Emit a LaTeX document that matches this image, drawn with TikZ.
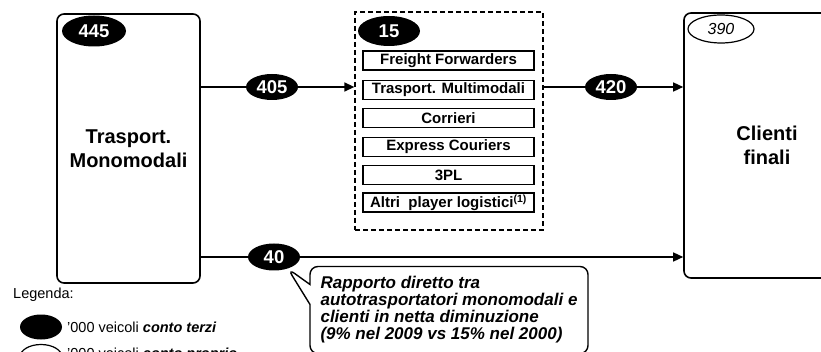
\documentclass[tikz,border=0pt]{standalone}
\usepackage{fontspec}
\setmainfont{Liberation Sans}
\usetikzlibrary{arrows.meta,shapes.geometric,shapes.callouts}
\begin{document}
\begin{tikzpicture}[x=1pt,y=-1pt,
  bigbox/.style={draw, line width=1.6pt, rounded corners=7pt, align=center, inner sep=0pt,
    font=\bfseries\fontsize{20}{24}\selectfont},
  dark/.style={ellipse, fill=black, text=white, inner sep=0pt,
    font=\bfseries\fontsize{18.5}{18.5}\selectfont},
  light/.style={ellipse, draw, line width=1.2pt, fill=white, inner sep=0pt,
    font=\itshape\fontsize{16}{16}\selectfont},
  itembox/.style={draw, line width=1.3pt, minimum width=171pt, minimum height=19pt, inner sep=0pt,
    font=\bfseries\fontsize{15}{15}\selectfont},
  conn/.style={line width=1.4pt},
  arr/.style={conn, -{Triangle[length=10pt,width=9pt]}},
  legtext/.style={anchor=west, inner sep=0pt, font=\fontsize{14.5}{16}\selectfont},
]
\useasboundingbox (0,0) rectangle (821,352);
\clip (0,0) rectangle (821,352);

% main boxes
\node[bigbox, minimum width=143pt, minimum height=269pt] (mono) at (128.5,148.5) {Trasport.\\Monomodali};
\node[bigbox, minimum width=166pt, minimum height=265pt] (clienti) at (767,145.5) {Clienti\\finali};
\node[draw, dash pattern=on 5pt off 3pt, line width=1.3pt, minimum width=188pt, minimum height=218pt, inner sep=0pt] (group) at (449,121) {};

% counts
\node[dark, minimum width=64pt, minimum height=31pt] (n445) at (94,31) {445};
\node[dark, minimum width=62pt, minimum height=30pt] (n15) at (389,31) {15};
\node[light, minimum width=66pt, minimum height=28pt] (n390) at (721,29) {390};

% player boxes
\node[itembox] (ff) at (448.5,60.5) {Freight Forwarders};
\node[itembox] (tm) at (448.5,90) {Trasport. Multimodali};
\node[itembox] (co) at (448.5,118) {Corrieri};
\node[itembox] (ec) at (448.5,147) {Express Couriers};
\node[itembox] (pl) at (448.5,175) {3PL};
\node[itembox] (al) at (448.5,202.5) {Altri\ \ player logistici\textsuperscript{(1)}};

% flow labels
\node[dark, minimum width=52pt, minimum height=26pt] (n405) at (272,87) {405};
\node[dark, minimum width=52pt, minimum height=26pt] (n420) at (611,87) {420};
\node[dark, minimum width=52pt, minimum height=27pt] (n40) at (274,257) {40};

% connectors
\draw[conn] (mono.east |- n405.center) -- (n405.west);
\draw[arr] (n405.east) -- (group.west |- n405.center);
\draw[conn] (group.east |- n420.center) -- (n420.west);
\draw[arr] (n420.east) -- (clienti.west |- n420.center);
\draw[conn] (mono.east |- n40.center) -- (n40.west);
\draw[arr] (n40.east) -- (clienti.west |- n40.center);

% callout
\node[draw, line width=1.4pt, rounded corners=8pt, rectangle callout,
  callout absolute pointer={(n40.-40)}, callout pointer width=20pt,
  minimum width=278pt, minimum height=87pt, inner sep=0pt, align=left,
  font=\bfseries\itshape\fontsize{17}{17}\selectfont] (note) at (449,310)
  {Rapporto diretto tra\\autotrasportatori monomodali e\\clienti in netta diminuzione\\(9\% nel 2009 vs 15\% nel 2000)};

% legend
\node[legtext] (legenda) at (13,295) {Legenda:};
\node[ellipse, fill=black, minimum width=42pt, minimum height=25pt, inner sep=0pt] (kdark) at (41,327) {};
\node[legtext] (tdark) at (67,327) {'000 veicoli \textbf{\textit{conto terzi}}};
\node[ellipse, draw, line width=1.2pt, minimum width=42pt, minimum height=25pt, inner sep=0pt] (klight) at (41,357) {};
\node[legtext] (tlight) at (67,355) {'000 veicoli \textbf{\textit{conto proprio}}};
\end{tikzpicture}
\end{document}
